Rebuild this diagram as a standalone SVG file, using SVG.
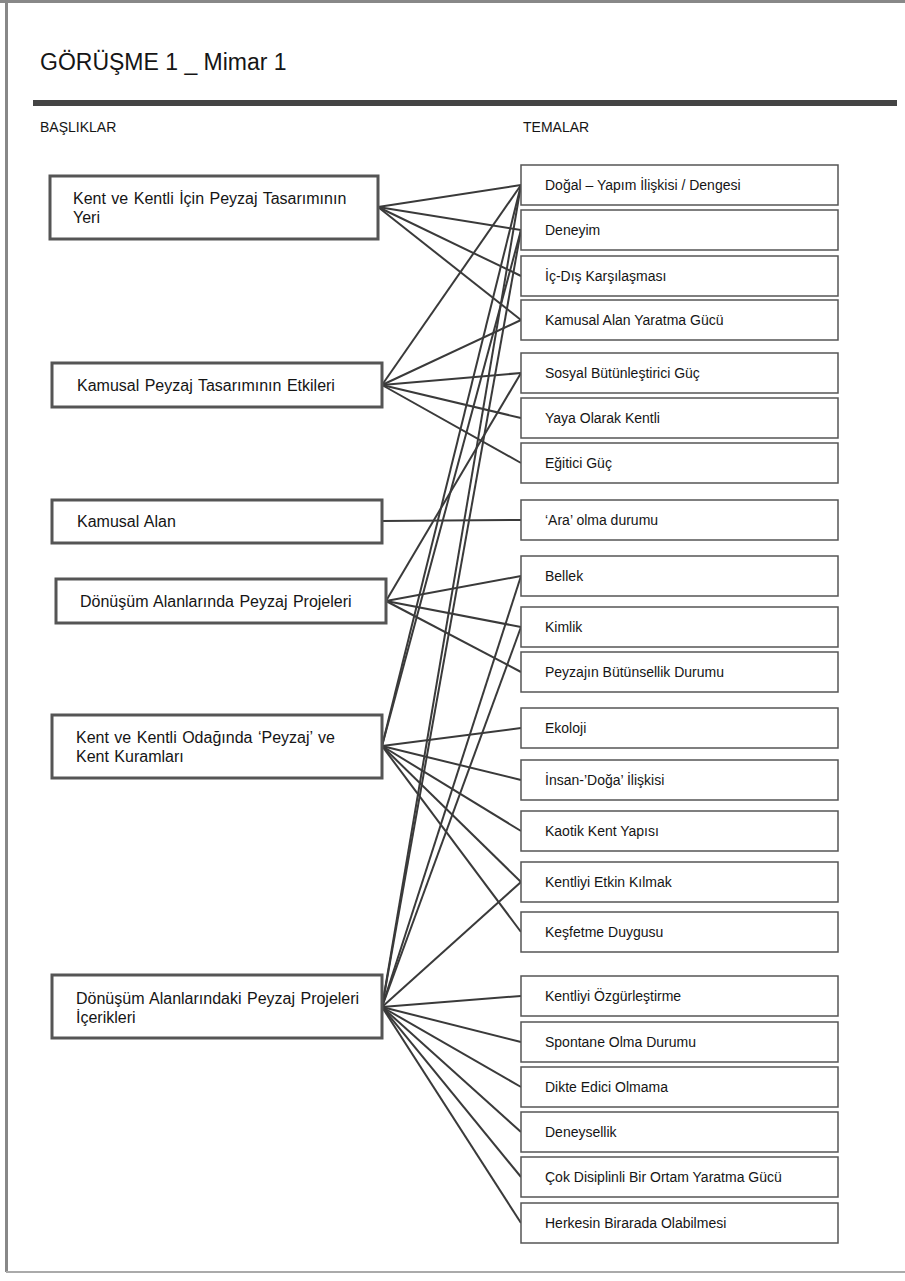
<svg xmlns="http://www.w3.org/2000/svg" width="905" height="1281" viewBox="0 0 905 1281">
<style>
text{font-family:"Liberation Sans",Arial,sans-serif;fill:#151515}
.t{font-size:14px}
.h{font-size:16px;word-spacing:1px}
.lb{fill:#fff;stroke:#555;stroke-width:3}
.rb{fill:#fff;stroke:#555;stroke-width:1.5}
.c line{stroke:#3a3a3a;stroke-width:2}
</style>
<rect width="905" height="1281" fill="#fff"/>
<g id="frame" fill="none">
<line x1="0" y1="1.5" x2="905" y2="1.5" stroke="#888" stroke-width="3"/>
<line x1="6.5" y1="0" x2="6.5" y2="1272" stroke="#888" stroke-width="3"/>
<line x1="6" y1="1272" x2="905" y2="1272" stroke="#aaa" stroke-width="2"/>
</g>
<g id="header">
<text x="40" y="70" style="font-size:23px">GÖRÜŞME 1 _ Mimar 1</text>
<rect x="33" y="100" width="864" height="6" fill="#444"/>
<text class="t" x="40" y="132">BAŞLIKLAR</text>
<text class="t" x="523" y="132">TEMALAR</text>
</g>
<g id="connectors" class="c">
<line x1="378" y1="207" x2="521" y2="185"/>
<line x1="378" y1="207" x2="521" y2="230"/>
<line x1="378" y1="207" x2="521" y2="276"/>
<line x1="378" y1="207" x2="521" y2="320"/>
<line x1="382" y1="385" x2="521" y2="185"/>
<line x1="382" y1="385" x2="521" y2="320"/>
<line x1="382" y1="385" x2="521" y2="373"/>
<line x1="382" y1="385" x2="521" y2="418"/>
<line x1="382" y1="385" x2="521" y2="463"/>
<line x1="382" y1="521" x2="521" y2="520"/>
<line x1="386" y1="601" x2="521" y2="373"/>
<line x1="386" y1="601" x2="521" y2="576"/>
<line x1="386" y1="601" x2="521" y2="627"/>
<line x1="386" y1="601" x2="521" y2="672"/>
<line x1="382" y1="746" x2="521" y2="185"/>
<line x1="382" y1="746" x2="521" y2="230"/>
<line x1="382" y1="746" x2="521" y2="728"/>
<line x1="382" y1="746" x2="521" y2="780"/>
<line x1="382" y1="746" x2="521" y2="831"/>
<line x1="382" y1="746" x2="521" y2="882"/>
<line x1="382" y1="746" x2="521" y2="932"/>
<line x1="382" y1="1007" x2="521" y2="185"/>
<line x1="382" y1="1007" x2="521" y2="230"/>
<line x1="382" y1="1007" x2="521" y2="576"/>
<line x1="382" y1="1007" x2="521" y2="627"/>
<line x1="382" y1="1007" x2="521" y2="882"/>
<line x1="382" y1="1007" x2="521" y2="996"/>
<line x1="382" y1="1007" x2="521" y2="1042"/>
<line x1="382" y1="1007" x2="521" y2="1087"/>
<line x1="382" y1="1007" x2="521" y2="1132"/>
<line x1="382" y1="1007" x2="521" y2="1177"/>
<line x1="382" y1="1007" x2="521" y2="1223"/>
</g>
<g id="b1"><rect class="lb" x="50" y="176" width="328" height="63"/><text class="h" x="73" y="204">Kent ve Kentli İçin Peyzaj Tasarımının</text><text class="h" x="73" y="223">Yeri</text></g>
<g id="b2"><rect class="lb" x="52" y="363" width="330" height="44"/><text class="h" x="77" y="391">Kamusal Peyzaj Tasarımının Etkileri</text></g>
<g id="b3"><rect class="lb" x="52" y="500" width="330" height="43"/><text class="h" x="77" y="527">Kamusal Alan</text></g>
<g id="b4"><rect class="lb" x="56" y="579" width="330" height="44"/><text class="h" x="80" y="607">Dönüşüm Alanlarında Peyzaj Projeleri</text></g>
<g id="b5"><rect class="lb" x="52" y="715" width="330" height="63"/><text class="h" x="76" y="743">Kent ve Kentli Odağında ‘Peyzaj’ ve</text><text class="h" x="76" y="762">Kent Kuramları</text></g>
<g id="b6"><rect class="lb" x="52" y="975" width="330" height="63"/><text class="h" x="76" y="1004">Dönüşüm Alanlarındaki Peyzaj Projeleri</text><text class="h" x="76" y="1023">İçerikleri</text></g>
<g id="r1"><rect class="rb" x="521" y="165" width="317" height="40"/><text class="t" x="545" y="190">Doğal – Yapım İlişkisi / Dengesi</text></g>
<g id="r2"><rect class="rb" x="521" y="210" width="317" height="40"/><text class="t" x="545" y="235">Deneyim</text></g>
<g id="r3"><rect class="rb" x="521" y="256" width="317" height="40"/><text class="t" x="545" y="281">İç-Dış Karşılaşması</text></g>
<g id="r4"><rect class="rb" x="521" y="300" width="317" height="40"/><text class="t" x="545" y="325">Kamusal Alan Yaratma Gücü</text></g>
<g id="r5"><rect class="rb" x="521" y="353" width="317" height="40"/><text class="t" x="545" y="378">Sosyal Bütünleştirici Güç</text></g>
<g id="r6"><rect class="rb" x="521" y="398" width="317" height="40"/><text class="t" x="545" y="423">Yaya Olarak Kentli</text></g>
<g id="r7"><rect class="rb" x="521" y="443" width="317" height="40"/><text class="t" x="545" y="468">Eğitici Güç</text></g>
<g id="r8"><rect class="rb" x="521" y="500" width="317" height="40"/><text class="t" x="545" y="525">‘Ara’ olma durumu</text></g>
<g id="r9"><rect class="rb" x="521" y="556" width="317" height="40"/><text class="t" x="545" y="581">Bellek</text></g>
<g id="r10"><rect class="rb" x="521" y="607" width="317" height="40"/><text class="t" x="545" y="632">Kimlik</text></g>
<g id="r11"><rect class="rb" x="521" y="652" width="317" height="40"/><text class="t" x="545" y="677">Peyzajın Bütünsellik Durumu</text></g>
<g id="r12"><rect class="rb" x="521" y="708" width="317" height="40"/><text class="t" x="545" y="733">Ekoloji</text></g>
<g id="r13"><rect class="rb" x="521" y="760" width="317" height="40"/><text class="t" x="545" y="785">İnsan-’Doğa’ İlişkisi</text></g>
<g id="r14"><rect class="rb" x="521" y="811" width="317" height="40"/><text class="t" x="545" y="836">Kaotik Kent Yapısı</text></g>
<g id="r15"><rect class="rb" x="521" y="862" width="317" height="40"/><text class="t" x="545" y="887">Kentliyi Etkin Kılmak</text></g>
<g id="r16"><rect class="rb" x="521" y="912" width="317" height="40"/><text class="t" x="545" y="937">Keşfetme Duygusu</text></g>
<g id="r17"><rect class="rb" x="521" y="976" width="317" height="40"/><text class="t" x="545" y="1001">Kentliyi Özgürleştirme</text></g>
<g id="r18"><rect class="rb" x="521" y="1022" width="317" height="40"/><text class="t" x="545" y="1047">Spontane Olma Durumu</text></g>
<g id="r19"><rect class="rb" x="521" y="1067" width="317" height="40"/><text class="t" x="545" y="1092">Dikte Edici Olmama</text></g>
<g id="r20"><rect class="rb" x="521" y="1112" width="317" height="40"/><text class="t" x="545" y="1137">Deneysellik</text></g>
<g id="r21"><rect class="rb" x="521" y="1157" width="317" height="40"/><text class="t" x="545" y="1182">Çok Disiplinli Bir Ortam Yaratma Gücü</text></g>
<g id="r22"><rect class="rb" x="521" y="1203" width="317" height="40"/><text class="t" x="545" y="1228">Herkesin Birarada Olabilmesi</text></g>
</svg>
